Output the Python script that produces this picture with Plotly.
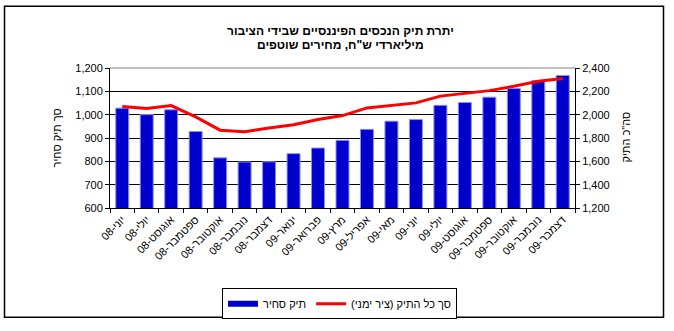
import plotly.graph_objects as go

# Monthly balances, NIS billions at current prices
months = ["יוני-08", "יולי-08", "אוגוסט-08", "ספטמבר-08", "אוקטובר-08", "נובמבר-08",
          "דצמבר-08", "ינואר-09", "פברואר-09", "מרץ-09", "אפריל-09", "מאי-09",
          "יוני-09", "יולי-09", "אוגוסט-09", "ספטמבר-09", "אוקטובר-09", "נובמבר-09",
          "דצמבר-09"]
tradable = [1028, 1000, 1021, 928, 815, 797, 798, 833, 857, 890, 937, 972,
            979, 1040, 1052, 1075, 1112, 1146, 1168]
total = [2070, 2052, 2078, 1981, 1867, 1853, 1886, 1914, 1958, 1992, 2058, 2078,
         2101, 2159, 2183, 2206, 2243, 2287, 2310]

left_ticks = list(range(600, 1201, 100))
right_ticks = list(range(1200, 2401, 200))

W, H = 674, 331
L, R, T, B = 110, 99, 68, 120
pw, ph = W - L - R, H - T - B


def px(x):
    return (x - L) / pw


def py(y):
    return (H - B - y) / ph


font = "Liberation Sans, Arial, sans-serif"
BAR_BLUE = "#0000CC"

fig = go.Figure()
fig.add_trace(go.Bar(
    x=months, y=tradable, name="תיק סחיר", yaxis="y", showlegend=False,
    marker=dict(color=BAR_BLUE, line=dict(color="#8C8CFF", width=1)),
))
# legend key for the bars, drawn as a wide flat swatch
fig.add_trace(go.Scatter(
    x=[None], y=[None], name="תיק סחיר", mode="lines",
    line=dict(color=BAR_BLUE, width=6), hoverinfo="skip",
))
fig.add_trace(go.Scatter(
    x=months, y=total, name="סך כל התיק (ציר ימני)", yaxis="y2",
    mode="lines", line=dict(color="#FF0000", width=3),
))

fig.update_layout(
    width=W, height=H,
    margin=dict(l=L, r=R, t=T, b=B, pad=0),
    paper_bgcolor="white", plot_bgcolor="white",
    font=dict(family=font, size=11, color="black"),
    bargap=0.47,
    showlegend=True,
    legend=dict(
        orientation="h", x=px(222), y=py(293), xanchor="left", yanchor="top",
        bordercolor="black", borderwidth=1, font=dict(size=11),
        itemwidth=30, tracegroupgap=0,
    ),
    xaxis=dict(
        type="category", showgrid=False, showline=True, linecolor="black",
        ticks="outside", ticklen=4, tickcolor="black", tickson="boundaries",
        tickangle=-45, tickfont=dict(size=11), automargin=False,
    ),
    yaxis=dict(
        range=[600, 1200], tickvals=left_ticks, tickformat=",",
        showgrid=True, gridcolor="black", gridwidth=1,
        showline=True, linecolor="black", ticks="outside", ticklen=4,
        tickcolor="black", zeroline=False, automargin=False,
    ),
    yaxis2=dict(
        range=[1200, 2400], tickvals=right_ticks, tickformat=",",
        overlaying="y", side="right", showgrid=False,
        showline=True, linecolor="black", ticks="outside", ticklen=4,
        tickcolor="black", zeroline=False, automargin=False,
    ),
    shapes=[
        # outer chart frame
        dict(type="rect", xref="paper", yref="paper",
             x0=px(4.5), x1=px(663.5), y0=py(322.5), y1=py(5),
             line=dict(color="black", width=1.5), layer="above"),
        # top edge of the plot area
        dict(type="line", xref="paper", yref="paper", x0=0, x1=1, y0=1, y1=1,
             line=dict(color="#808080", width=1), layer="above"),
    ],
)

notes = [
    ("<b>יתרת תיק הנכסים הפיננסיים שבידי הציבור</b>", 340, 30, 0, 12),
    ("<b>מיליארדי ש\"ח, מחירים שוטפים</b>", 340, 45, 0, 12),
    ("סך תיק סחיר", 57, 140, -90, 11),
    ("סה\"כ התיק", 626, 139, -90, 11),
]
for text, x, y, angle, size in notes:
    fig.add_annotation(
        text=text, xref="paper", yref="paper", x=px(x), y=py(y),
        xanchor="center", yanchor="middle", textangle=angle,
        showarrow=False, font=dict(size=size),
    )

fig.write_html("out.html")
